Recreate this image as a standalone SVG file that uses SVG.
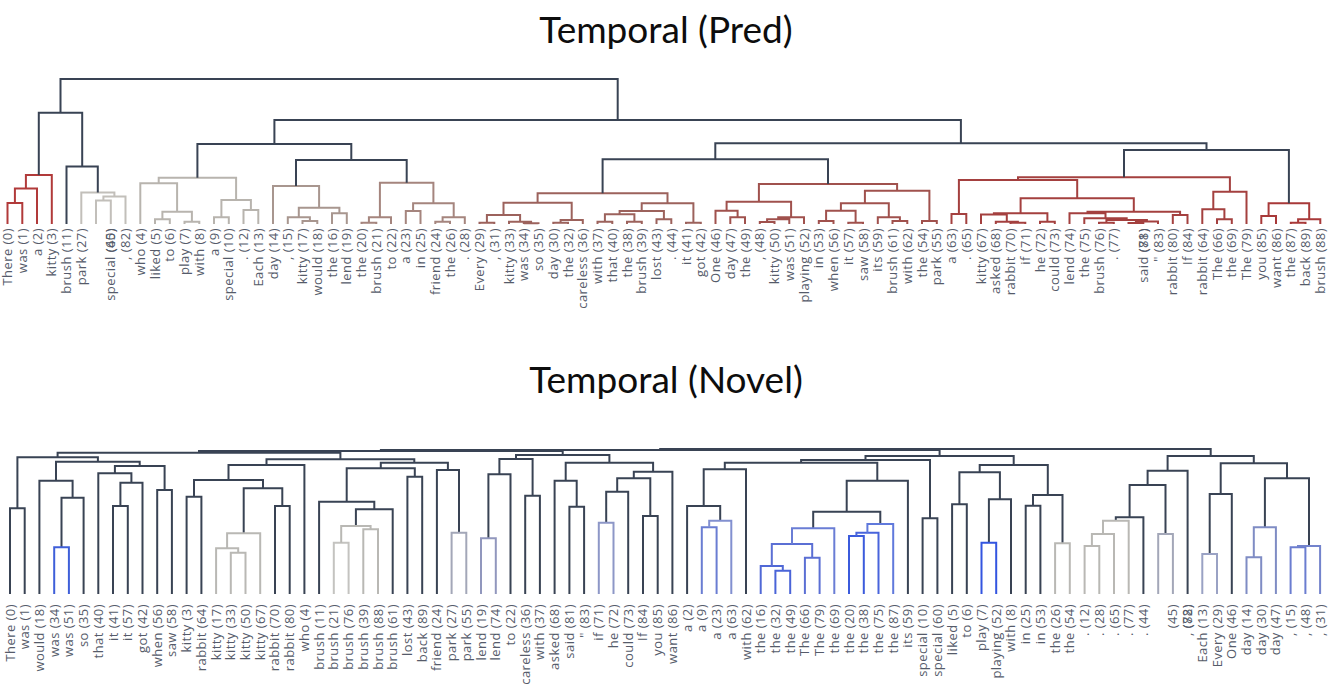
<svg xmlns="http://www.w3.org/2000/svg" width="1331" height="684" viewBox="0 0 1331 684">
<style>
.bg{fill:#fff}
path{fill:none;stroke-width:2}
.k{stroke:#394354}
.tA{stroke:#b13a3a}.tB{stroke:#c2bfba}.tC{stroke:#b8b4ae}.tD{stroke:#a8968f}.tF{stroke:#a5857e}.tG{stroke:#9c625c}.tO{stroke:#a0514d}.tR{stroke:#a4403f}.tY{stroke:#a83939}
.gr{stroke:#b9b8b4}.gr2{stroke:#c4c3c0}.gb{stroke:#a3a7b8}
.title{font-family:Lato,"Open Sans",sans-serif;font-size:37px;fill:#0d0d0d;text-anchor:middle}
.lbl text{font-family:"Open Sans","DejaVu Sans",sans-serif;font-size:13px;letter-spacing:0.45px;fill:#555b6a;text-anchor:end}
</style>
<rect class="bg" width="1331" height="684"/>
<text class="title" x="666" y="43">Temporal (Pred)</text>
<text class="title" x="666" y="393">Temporal (Novel)</text>

<g id="pred-connectors">
<path class="tA" d="M7.5 224V203H22.3V224M14.9 203V188.5H37V224M25.9 188.5V175H51.8V224"/>
<path class="tB" d="M96 224V200.5H110.8V224M103.4 200.5V196.5H125.5V224M81.3 224V192.5H114.4V196.5"/>
<path class="tC" d="M155 224V219.3H169.8V224M184.5 224V221.7H199.3V224M162.4 219.3V211.7H191.9V221.7M140.3 224V183.3H177.1V211.7M214 224V217.3H228.8V224M243.5 224V210H258.3V224M221.4 217.3V200H250.9V210M158.7 183.3V177.7H236.1V200"/>
<path class="tD" d="M302.5 224V221H317.3V224M287.8 224V217.3H309.9V221M332 224V213.3H346.8V224M298.8 217.3V207.7H339.4V213.3M273 224V186H319.1V207.7"/>
<path class="tF" d="M361.5 224V222.7H376.3V224M368.9 222.7V217.3H391V224M405.8 224V211H420.5V224M435.3 224V221.7H450V224M442.6 221.7V217.3H464.8V224M413.1 211V203.3H453.7V217.3M379.9 217.3V182.7H433.4V203.3"/>
<path class="tG" d="M479.5 224V222.7H494.3V224M523.8 224V223.3H538.5V224M509 224V221.7H531.1V223.3M486.9 222.7V215H520.1V221.7M553.3 224V222.7H568V224M560.6 222.7V220H582.8V224M503.5 215V202.7H571.7V220M597.5 224V221.7H612.3V224M627 224V221.7H641.8V224M604.9 221.7V214.3H634.4V221.7M656.5 224V219.3H671.3V224M619.6 214.3V211H663.9V219.3M686 224V222.7H700.8V224M641.7 211V203.3H693.4V222.7M537.6 202.7V193.3H667.5V203.3"/>
<path class="tO" d="M730.3 224V217.3H745V224M715.5 224V210.7H737.6V217.3M759.8 224V222H774.5V224M767.1 222V219.3H789.3V224M778.2 219.3V217.3H804V224M726.6 210.7V201.7H791.1V217.3M818.8 224V221H833.5V224M848.3 224V222.7H863V224M826.1 221V210.7H855.6V222.7M892.5 224V221H907.3V224M877.8 224V217.3H899.9V221M840.9 210.7V203.3H888.8V217.3M922 224V221H936.8V224M864.9 203.3V190.7H929.4V221M758.9 201.7V184H897.1V190.7"/>
<path class="tR" d="M951.5 224V214H966.3V224M1010.5 224V222.7H1025.3V224M995.8 224V221.7H1017.9V222.7M981 224V214.5H1006.8V221.7M1040 224V221.7H1054.8V224M993.9 214.5V213.3H1047.4V221.7M1099 224V222.7H1113.8V224M1128.5 224V223H1143.3V224M1135.9 223V221.5H1158V224M1106.4 222.7V220H1146.9V221.5M1084.3 224V218.3H1126.7V220M1069.5 224V213.3H1105.5V218.3M1172.8 224V215H1187.5V224M1087.5 213.3V211.7H1180.1V215M1020.6 213.3V198.3H1133.8V211.7M958.9 214V180H1077.2V198.3M1217 224V219.3H1231.8V224M1202.3 224V209.3H1224.4V219.3M1213.3 209.3V191.7H1246.5V224M1018 180V177.3H1229.9V191.7"/>
<path class="tY" d="M1261.3 224V216H1276V224M1290.8 224V222.7H1305.5V224M1298.1 222.7V219.3H1320.3V224M1268.6 216V203.3H1309.2V219.3"/>
<path class="k" d="M66.5 224V166.5H97.8V192.5M38.8 175V112.7H82.2V166.5M60.5 112.7V79H617.7V120M274.4 144V120H960.9V143.3M197.4 177.7V144H351.3V160M296 186V160H406.7V182.7M602.6 193.3V159.3H828V184M715.3 159.3V143.3H1206.5V150M1124 177.3V150H1288.9V203.3"/>
</g>

<g id="novel-connectors">
<path class="k" d="M10 594V508.3H24.7V594M61.5 547.3V497.7H83.6V594M39.4 594V480.7H72.6V497.7M113 594V506H127.8V594M120.4 506V482.7H142.5V594M98.3 594V473.3H131.4V482.7M157.2 594V490H171.9V594M114.9 473.3V466H164.6V490M56 480.7V461.7H139.7V466M17.4 508.3V457.3H97.9V461.7M186.6 594V496.7H201.4V594M275 594V506H289.7V594M243.7 533.3V488.3H282.3V506M194 496.7V480H263V488.3M228.5 480V465H304.4V594M355.9 526V509.3H392.7V594M319.1 594V501.7H374.3V509.3M407.4 594V476.7H422.2V594M346.7 501.7V468.3H414.8V476.7M436.9 594V470H459V532.7M380.8 468.3V462.7H447.9V470M266.5 465V459.3H414.3V462.7M57.6 457.3V452.7H340.4V459.3"/>
<path class="k" d="M488.4 538.3V474.3H510.5V594M525.2 594V495.7H539.9V594M499.4 474.3V459H532.6V495.7M569.4 594V506.7H584.1V594M554.6 594V480.7H576.7V506.7M606.2 522.7V491.7H628.2V594M643 594V516H657.7V594M617.2 491.7V478.3H650.3V516M633.8 478.3V471.7H672.4V594M565.7 480.7V462.7H653.1V471.7M516 459V455H609.4V462.7"/>
<path class="k" d="M687.1 594V506H720.2V520.7M703.7 506V469.3H746V594M813.2 528.3V511.7H880.3V524M846.7 511.7V480.7H907.9V594M724.8 469.3V462.7H877.3V480.7M922.6 594V518.3H937.4V594M801.1 462.7V460H930V518.3M952.1 594V504.3H966.8V594M988.9 542.7V499.3H1011V594M959.4 504.3V472.3H999.9V499.3M1025.7 594V505.7H1040.4V594M1033 505.7V495H1062.5V543.3M979.7 472.3V465H1047.8V495M865.5 460V456H1013.7V465"/>
<path class="k" d="M1115.8 520.7V517.3H1143.4V594M1129.6 517.3V485H1165.5V534M1147.6 485V470.7H1187.6V594M1209.7 554V494H1231.8V594M1264.9 527.3V478.3H1309V546M1220.7 494V463.3H1287V478.3M1167.6 470.7V456H1253.8V463.3M199 452.7V451H562.7V455M380.9 451V450H939.6V456M660.2 450V449H1210.7V456"/>
<path style="stroke:#3f5fd9" d="M54.2 594V547.3H68.9V594"/>
<path class="gr" d="M230.8 594V552.7H245.5V594M216.1 594V548.3H238.2V552.7M227.1 548.3V533.3H260.2V594"/>
<path class="gr2" d="M333.8 594V542.7H348.6V594"/>
<path class="gr" d="M363.3 594V529.3H378V594M341.2 542.7V526H370.6V529.3"/>
<path class="gb" d="M451.6 594V532.7H466.3V594"/>
<path style="stroke:#9197bd" d="M481 594V538.3H495.8V594"/>
<path style="stroke:#8d97c7" d="M598.8 594V522.7H613.5V594"/>
<path style="stroke:#6a7dd2" d="M701.8 594V527.3H716.6V594"/>
<path style="stroke:#8290d0" d="M709.2 527.3V520.7H731.3V594"/>
<path style="stroke:#4a64d8" d="M775.4 594V570.7H790.2V594"/>
<path style="stroke:#5068d6" d="M760.7 594V566H782.8V570.7"/>
<path style="stroke:#5b6fd4" d="M804.9 594V557.7H819.6V594M771.8 566V544H812.2V557.7"/>
<path style="stroke:#6a7dd5" d="M792 544V528.3H834.3V594"/>
<path style="stroke:#3b5bdc" d="M849 594V536H863.8V594"/>
<path style="stroke:#4864dc" d="M856.4 536V532.7H878.5V594"/>
<path style="stroke:#6079dc" d="M867.4 532.7V524H893.2V594"/>
<path style="stroke:#3355e0" d="M981.5 594V542.7H996.2V594"/>
<path class="gr" d="M1055.1 594V543.3H1069.8V594M1084.6 594V546H1099.3V594M1091.9 546V534H1114V594M1103 534V520.7H1128.7V594"/>
<path class="gb" d="M1158.2 594V534H1172.9V594"/>
<path style="stroke:#9aa2c4" d="M1202.3 594V554H1217V594"/>
<path style="stroke:#7f8cc4" d="M1246.5 594V557.3H1261.2V594M1253.8 557.3V527.3H1275.9V594"/>
<path style="stroke:#6b7dd0" d="M1290.6 594V547.3H1305.4V594"/>
<path style="stroke:#7383cc" d="M1298 547.3V546H1320.1V594"/>
</g>

<g class="lbl" transform="rotate(-90)">
<g id="pred-0"><text x="-228" y="12">There (0)</text></g>
<g id="pred-1"><text x="-228" y="26.75">was (1)</text></g>
<g id="pred-2"><text x="-228" y="41.5">a (2)</text></g>
<g id="pred-3"><text x="-228" y="56.25">kitty (3)</text></g>
<g id="pred-4"><text x="-228" y="71">brush (11)</text></g>
<g id="pred-5"><text x="-228" y="85.75">park (27)</text></g>
<g id="pred-7"><text x="-228" y="115.25">special (60)</text><text x="-228" y="115.25">(45)</text></g>
<g id="pred-8"><text x="-228" y="130">, (82)</text></g>
<g id="pred-9"><text x="-228" y="144.75">who (4)</text></g>
<g id="pred-10"><text x="-228" y="159.5">liked (5)</text></g>
<g id="pred-11"><text x="-228" y="174.25">to (6)</text></g>
<g id="pred-12"><text x="-228" y="189">play (7)</text></g>
<g id="pred-13"><text x="-228" y="203.75">with (8)</text></g>
<g id="pred-14"><text x="-228" y="218.5">a (9)</text></g>
<g id="pred-15"><text x="-228" y="233.25">special (10)</text></g>
<g id="pred-16"><text x="-228" y="248">. (12)</text></g>
<g id="pred-17"><text x="-228" y="262.75">Each (13)</text></g>
<g id="pred-18"><text x="-228" y="277.5">day (14)</text></g>
<g id="pred-19"><text x="-228" y="292.25">, (15)</text></g>
<g id="pred-20"><text x="-228" y="307">kitty (17)</text></g>
<g id="pred-21"><text x="-228" y="321.75">would (18)</text></g>
<g id="pred-22"><text x="-228" y="336.5">the (16)</text></g>
<g id="pred-23"><text x="-228" y="351.25">lend (19)</text></g>
<g id="pred-24"><text x="-228" y="366">the (20)</text></g>
<g id="pred-25"><text x="-228" y="380.75">brush (21)</text></g>
<g id="pred-26"><text x="-228" y="395.5">to (22)</text></g>
<g id="pred-27"><text x="-228" y="410.25">a (23)</text></g>
<g id="pred-28"><text x="-228" y="425">in (25)</text></g>
<g id="pred-29"><text x="-228" y="439.75">friend (24)</text></g>
<g id="pred-30"><text x="-228" y="454.5">the (26)</text></g>
<g id="pred-31"><text x="-228" y="469.25">. (28)</text></g>
<g id="pred-32"><text x="-228" y="484">Every (29)</text></g>
<g id="pred-33"><text x="-228" y="498.75">, (31)</text></g>
<g id="pred-34"><text x="-228" y="513.5">kitty (33)</text></g>
<g id="pred-35"><text x="-228" y="528.25">was (34)</text></g>
<g id="pred-36"><text x="-228" y="543">so (35)</text></g>
<g id="pred-37"><text x="-228" y="557.75">day (30)</text></g>
<g id="pred-38"><text x="-228" y="572.5">the (32)</text></g>
<g id="pred-39"><text x="-228" y="587.25">careless (36)</text></g>
<g id="pred-40"><text x="-228" y="602">with (37)</text></g>
<g id="pred-41"><text x="-228" y="616.75">that (40)</text></g>
<g id="pred-42"><text x="-228" y="631.5">the (38)</text></g>
<g id="pred-43"><text x="-228" y="646.25">brush (39)</text></g>
<g id="pred-44"><text x="-228" y="661">lost (43)</text></g>
<g id="pred-45"><text x="-228" y="675.75">. (44)</text></g>
<g id="pred-46"><text x="-228" y="690.5">it (41)</text></g>
<g id="pred-47"><text x="-228" y="705.25">got (42)</text></g>
<g id="pred-48"><text x="-228" y="720">One (46)</text></g>
<g id="pred-49"><text x="-228" y="734.75">day (47)</text></g>
<g id="pred-50"><text x="-228" y="749.5">the (49)</text></g>
<g id="pred-51"><text x="-228" y="764.25">, (48)</text></g>
<g id="pred-52"><text x="-228" y="779">kitty (50)</text></g>
<g id="pred-53"><text x="-228" y="793.75">was (51)</text></g>
<g id="pred-54"><text x="-228" y="808.5">playing (52)</text></g>
<g id="pred-55"><text x="-228" y="823.25">in (53)</text></g>
<g id="pred-56"><text x="-228" y="838">when (56)</text></g>
<g id="pred-57"><text x="-228" y="852.75">it (57)</text></g>
<g id="pred-58"><text x="-228" y="867.5">saw (58)</text></g>
<g id="pred-59"><text x="-228" y="882.25">its (59)</text></g>
<g id="pred-60"><text x="-228" y="897">brush (61)</text></g>
<g id="pred-61"><text x="-228" y="911.75">with (62)</text></g>
<g id="pred-62"><text x="-228" y="926.5">the (54)</text></g>
<g id="pred-63"><text x="-228" y="941.25">park (55)</text></g>
<g id="pred-64"><text x="-228" y="956">a (63)</text></g>
<g id="pred-65"><text x="-228" y="970.75">. (65)</text></g>
<g id="pred-66"><text x="-228" y="985.5">kitty (67)</text></g>
<g id="pred-67"><text x="-228" y="1000.25">asked (68)</text></g>
<g id="pred-68"><text x="-228" y="1015">rabbit (70)</text></g>
<g id="pred-69"><text x="-228" y="1029.75">if (71)</text></g>
<g id="pred-70"><text x="-228" y="1044.5">he (72)</text></g>
<g id="pred-71"><text x="-228" y="1059.25">could (73)</text></g>
<g id="pred-72"><text x="-228" y="1074">lend (74)</text></g>
<g id="pred-73"><text x="-228" y="1088.75">the (75)</text></g>
<g id="pred-74"><text x="-228" y="1103.5">brush (76)</text></g>
<g id="pred-75"><text x="-228" y="1118.25">. (77)</text></g>
<g id="pred-77"><text x="-228" y="1147.75">said (81)</text><text x="-228" y="1147.75">(78)</text></g>
<g id="pred-78"><text x="-228" y="1162.5">" (83)</text></g>
<g id="pred-79"><text x="-228" y="1177.25">rabbit (80)</text></g>
<g id="pred-80"><text x="-228" y="1192">If (84)</text></g>
<g id="pred-81"><text x="-228" y="1206.75">rabbit (64)</text></g>
<g id="pred-82"><text x="-228" y="1221.5">The (66)</text></g>
<g id="pred-83"><text x="-228" y="1236.25">the (69)</text></g>
<g id="pred-84"><text x="-228" y="1251">The (79)</text></g>
<g id="pred-85"><text x="-228" y="1265.75">you (85)</text></g>
<g id="pred-86"><text x="-228" y="1280.5">want (86)</text></g>
<g id="pred-87"><text x="-228" y="1295.25">the (87)</text></g>
<g id="pred-88"><text x="-228" y="1310">back (89)</text></g>
<g id="pred-89"><text x="-228" y="1324.75">brush (88)</text></g>

<g id="novel-0"><text x="-604" y="14.5">There (0)</text></g>
<g id="novel-1"><text x="-604" y="29.22">was (1)</text></g>
<g id="novel-2"><text x="-604" y="43.94">would (18)</text></g>
<g id="novel-3"><text x="-604" y="58.66">was (34)</text></g>
<g id="novel-4"><text x="-604" y="73.38">was (51)</text></g>
<g id="novel-5"><text x="-604" y="88.1">so (35)</text></g>
<g id="novel-6"><text x="-604" y="102.82">that (40)</text></g>
<g id="novel-7"><text x="-604" y="117.54">it (41)</text></g>
<g id="novel-8"><text x="-604" y="132.26">it (57)</text></g>
<g id="novel-9"><text x="-604" y="146.98">got (42)</text></g>
<g id="novel-10"><text x="-604" y="161.7">when (56)</text></g>
<g id="novel-11"><text x="-604" y="176.42">saw (58)</text></g>
<g id="novel-12"><text x="-604" y="191.14">kitty (3)</text></g>
<g id="novel-13"><text x="-604" y="205.86">rabbit (64)</text></g>
<g id="novel-14"><text x="-604" y="220.58">kitty (17)</text></g>
<g id="novel-15"><text x="-604" y="235.3">kitty (33)</text></g>
<g id="novel-16"><text x="-604" y="250.02">kitty (50)</text></g>
<g id="novel-17"><text x="-604" y="264.74">kitty (67)</text></g>
<g id="novel-18"><text x="-604" y="279.46">rabbit (70)</text></g>
<g id="novel-19"><text x="-604" y="294.18">rabbit (80)</text></g>
<g id="novel-20"><text x="-604" y="308.9">who (4)</text></g>
<g id="novel-21"><text x="-604" y="323.62">brush (11)</text></g>
<g id="novel-22"><text x="-604" y="338.34">brush (21)</text></g>
<g id="novel-23"><text x="-604" y="353.06">brush (76)</text></g>
<g id="novel-24"><text x="-604" y="367.78">brush (39)</text></g>
<g id="novel-25"><text x="-604" y="382.5">brush (88)</text></g>
<g id="novel-26"><text x="-604" y="397.22">brush (61)</text></g>
<g id="novel-27"><text x="-604" y="411.94">lost (43)</text></g>
<g id="novel-28"><text x="-604" y="426.66">back (89)</text></g>
<g id="novel-29"><text x="-604" y="441.38">friend (24)</text></g>
<g id="novel-30"><text x="-604" y="456.1">park (27)</text></g>
<g id="novel-31"><text x="-604" y="470.82">park (55)</text></g>
<g id="novel-32"><text x="-604" y="485.54">lend (19)</text></g>
<g id="novel-33"><text x="-604" y="500.26">lend (74)</text></g>
<g id="novel-34"><text x="-604" y="514.98">to (22)</text></g>
<g id="novel-35"><text x="-604" y="529.7">careless (36)</text></g>
<g id="novel-36"><text x="-604" y="544.42">with (37)</text></g>
<g id="novel-37"><text x="-604" y="559.14">asked (68)</text></g>
<g id="novel-38"><text x="-604" y="573.86">said (81)</text></g>
<g id="novel-39"><text x="-604" y="588.58">" (83)</text></g>
<g id="novel-40"><text x="-604" y="603.3">if (71)</text></g>
<g id="novel-41"><text x="-604" y="618.02">he (72)</text></g>
<g id="novel-42"><text x="-604" y="632.74">could (73)</text></g>
<g id="novel-43"><text x="-604" y="647.46">If (84)</text></g>
<g id="novel-44"><text x="-604" y="662.18">you (85)</text></g>
<g id="novel-45"><text x="-604" y="676.9">want (86)</text></g>
<g id="novel-46"><text x="-604" y="691.62">a (2)</text></g>
<g id="novel-47"><text x="-604" y="706.34">a (9)</text></g>
<g id="novel-48"><text x="-604" y="721.06">a (23)</text></g>
<g id="novel-49"><text x="-604" y="735.78">a (63)</text></g>
<g id="novel-50"><text x="-604" y="750.5">with (62)</text></g>
<g id="novel-51"><text x="-604" y="765.22">the (16)</text></g>
<g id="novel-52"><text x="-604" y="779.94">the (32)</text></g>
<g id="novel-53"><text x="-604" y="794.66">the (49)</text></g>
<g id="novel-54"><text x="-604" y="809.38">The (66)</text></g>
<g id="novel-55"><text x="-604" y="824.1">The (79)</text></g>
<g id="novel-56"><text x="-604" y="838.82">the (69)</text></g>
<g id="novel-57"><text x="-604" y="853.54">the (20)</text></g>
<g id="novel-58"><text x="-604" y="868.26">the (38)</text></g>
<g id="novel-59"><text x="-604" y="882.98">the (75)</text></g>
<g id="novel-60"><text x="-604" y="897.7">the (87)</text></g>
<g id="novel-61"><text x="-604" y="912.42">its (59)</text></g>
<g id="novel-62"><text x="-604" y="927.14">special (10)</text></g>
<g id="novel-63"><text x="-604" y="941.86">special (60)</text></g>
<g id="novel-64"><text x="-604" y="956.58">liked (5)</text></g>
<g id="novel-65"><text x="-604" y="971.3">to (6)</text></g>
<g id="novel-66"><text x="-604" y="986.02">play (7)</text></g>
<g id="novel-67"><text x="-604" y="1000.74">playing (52)</text></g>
<g id="novel-68"><text x="-604" y="1015.46">with (8)</text></g>
<g id="novel-69"><text x="-604" y="1030.18">in (25)</text></g>
<g id="novel-70"><text x="-604" y="1044.9">in (53)</text></g>
<g id="novel-71"><text x="-604" y="1059.62">the (26)</text></g>
<g id="novel-72"><text x="-604" y="1074.34">the (54)</text></g>
<g id="novel-73"><text x="-604" y="1089.06">. (12)</text></g>
<g id="novel-74"><text x="-604" y="1103.78">. (28)</text></g>
<g id="novel-75"><text x="-604" y="1118.5">. (65)</text></g>
<g id="novel-76"><text x="-604" y="1133.22">. (77)</text></g>
<g id="novel-77"><text x="-604" y="1147.94">. (44)</text></g>
<g id="novel-79"><text x="-604" y="1177.38">(45)</text></g>
<g id="novel-80"><text x="-604" y="1192.1">, (82)</text><text x="-604" y="1192.1">(78)</text></g>
<g id="novel-81"><text x="-604" y="1206.82">Each (13)</text></g>
<g id="novel-82"><text x="-604" y="1221.54">Every (29)</text></g>
<g id="novel-83"><text x="-604" y="1236.26">One (46)</text></g>
<g id="novel-84"><text x="-604" y="1250.98">day (14)</text></g>
<g id="novel-85"><text x="-604" y="1265.7">day (30)</text></g>
<g id="novel-86"><text x="-604" y="1280.42">day (47)</text></g>
<g id="novel-87"><text x="-604" y="1295.14">, (15)</text></g>
<g id="novel-88"><text x="-604" y="1309.86">, (48)</text></g>
<g id="novel-89"><text x="-604" y="1324.58">, (31)</text></g>
</g>
</svg>
